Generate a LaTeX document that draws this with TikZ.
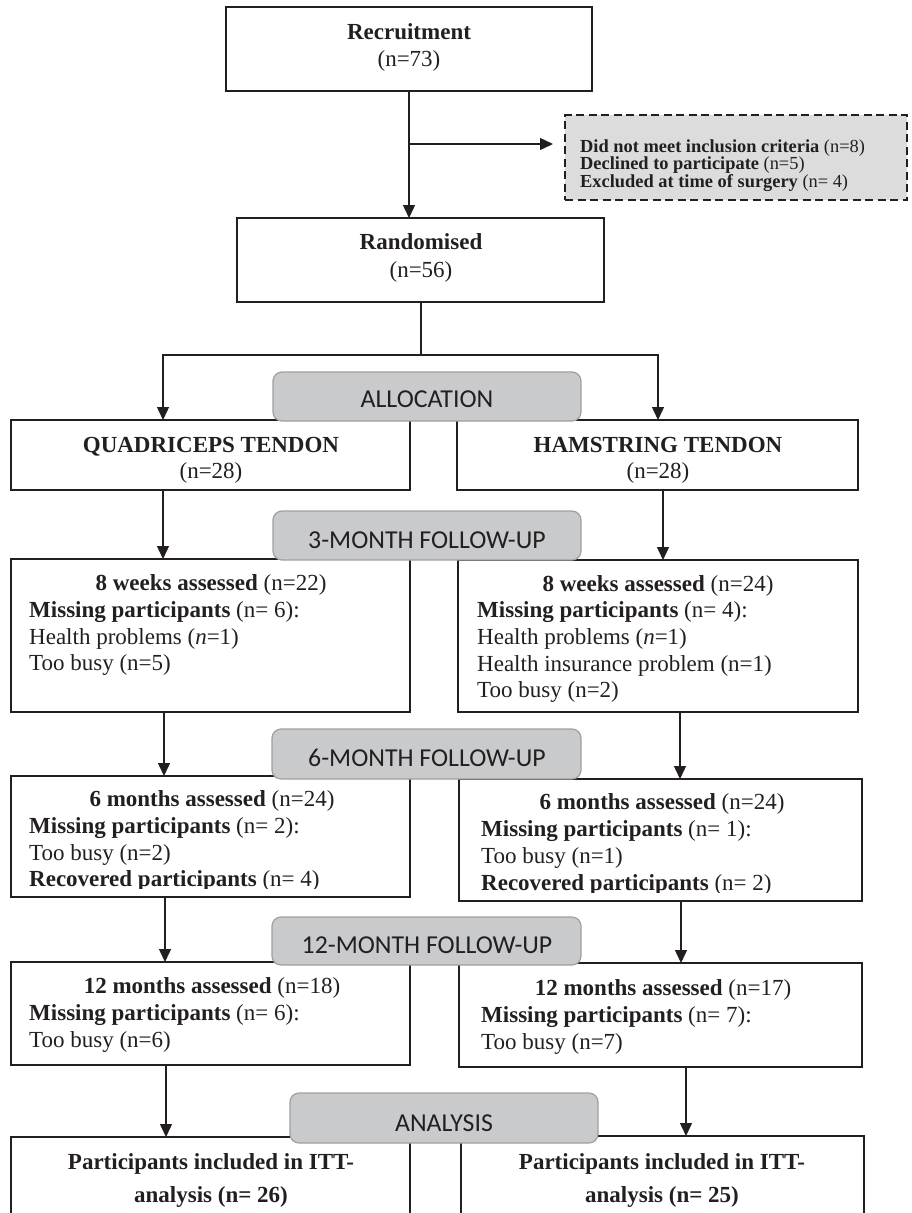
\documentclass[tikz,border=0pt]{standalone}
\usepackage{fontspec}
\setmainfont{Liberation Serif}
\newfontfamily\calib{Carlito}
\usetikzlibrary{arrows.meta}
\definecolor{ink}{HTML}{231F20}
\definecolor{phasefill}{HTML}{C9CACC}
\definecolor{phaseline}{HTML}{A0A0A0}
\definecolor{exclfill}{HTML}{DCDCDC}
\begin{document}
\begin{tikzpicture}[x=1pt,y=-1pt,
  box/.style={draw=ink,line width=1.4pt,fill=white,inner sep=0pt,outer sep=0pt,anchor=north west},
  exclbox/.style={box,fill=exclfill,dash pattern=on 8pt off 4.5pt,line width=1.3pt},
  phase/.style={draw=phaseline,fill=phasefill,line width=1.2pt,rounded corners=9pt,inner sep=0pt,outer sep=0pt,anchor=north west},
  ptext/.style={inner sep=0pt,anchor=base,font=\calib\fontsize{25.8}{28}\selectfont,text=ink},
  tx/.style={inner sep=0pt,font=\fontsize{23}{27}\selectfont,text=ink},
  txc/.style={tx,anchor=base},
  txl/.style={tx,anchor=base west},
  txs/.style={inner sep=0pt,anchor=base west,font=\fontsize{18.4}{18}\selectfont,text=ink},
  conn/.style={draw=ink,line width=1.4pt},
  arr/.style={conn,-{Triangle[length=13pt,width=12pt]}},
]
\useasboundingbox (0,0) rectangle (911,1213);
\clip (0,0) rectangle (911,1213);

% ---------- boxes ----------
\node[box,minimum width=366pt,minimum height=84pt] (rec) at (226,7) {};
\node[exclbox,minimum width=342pt,minimum height=85pt] (excl) at (565,115) {};
\node[box,minimum width=367pt,minimum height=84pt] (rand) at (237,218) {};
\node[box,minimum width=399pt,minimum height=70pt] (quad) at (11,420) {};
\node[box,minimum width=401pt,minimum height=70pt] (ham) at (457,420) {};
\node[box,minimum width=399pt,minimum height=153pt] (wL) at (11,559) {};
\node[box,minimum width=400pt,minimum height=152pt] (wR) at (458,560) {};
\node[box,minimum width=399pt,minimum height=121pt] (sL) at (11,776) {};
\node[box,minimum width=403pt,minimum height=122pt] (sR) at (459,779) {};
\node[box,minimum width=399pt,minimum height=103pt] (tL) at (11,962) {};
\node[box,minimum width=403pt,minimum height=104pt] (tR) at (459,963) {};
\node[box,minimum width=399pt,minimum height=110pt] (iL) at (11,1137) {};
\node[box,minimum width=403pt,minimum height=110pt] (iR) at (461,1136) {};

% ---------- connector coordinates ----------
\coordinate (xa) at (409,0);
\coordinate (yb) at (0,144);
\coordinate (split) at (421,355);
\coordinate (xq) at (163,0);
\coordinate (xh) at (658,0);
\coordinate (x1L) at (163,0);
\coordinate (x1R) at (663,0);
\coordinate (x2L) at (164,0);
\coordinate (x2R) at (680,0);
\coordinate (x3L) at (165,0);
\coordinate (x3R) at (681,0);
\coordinate (x4L) at (166,0);
\coordinate (x4R) at (686,0);

% ---------- connectors ----------
\draw[arr] (rec.south -| xa) -- (rand.north -| xa);
\draw[arr,shorten >=12pt] (xa |- yb) -- (excl.west |- yb);
\draw[conn] (rand.south -| split) -- (split);
\draw[arr] (split) -| (quad.north -| xq);
\draw[arr] (split) -| (ham.north -| xh);
\draw[arr] (quad.south -| x1L) -- (wL.north -| x1L);
\draw[arr] (ham.south -| x1R) -- (wR.north -| x1R);
\draw[arr] (wL.south -| x2L) -- (sL.north -| x2L);
\draw[arr] (wR.south -| x2R) -- (sR.north -| x2R);
\draw[arr] (sL.south -| x3L) -- (tL.north -| x3L);
\draw[arr] (sR.south -| x3R) -- (tR.north -| x3R);
\draw[arr] (tL.south -| x4L) -- (iL.north -| x4L);
\draw[arr] (tR.south -| x4R) -- (iR.north -| x4R);

% ---------- phase labels ----------
\node[phase,minimum width=308pt,minimum height=49pt] (alloc) at (273,372) {};
\node[phase,minimum width=308pt,minimum height=49pt] (m3) at (273,511) {};
\node[phase,minimum width=309pt,minimum height=50pt] (m6) at (272,729) {};
\node[phase,minimum width=309pt,minimum height=48pt] (m12) at (272,917) {};
\node[phase,minimum width=308pt,minimum height=50pt] (anl) at (290,1093) {};
\node[ptext] (allocT) at (427,407) {ALLOCATION};
\node[ptext] (m3T) at (427,548) {3-MONTH FOLLOW-UP};
\node[ptext] (m6T) at (427,766) {6-MONTH FOLLOW-UP};
\node[ptext] (m12T) at (427,953) {12-MONTH FOLLOW-UP};
\node[ptext] (anlT) at (444,1131) {ANALYSIS};

% ---------- texts ----------
\node[txc] (recA) at (409,39) {\textbf{Recruitment}};
\node[txc] (recB) at (409,66) {(n=73)};
\node[txc] (randA) at (421,249) {\textbf{Randomised}};
\node[txc] (randB) at (421,277) {(n=56)};

\node[txs] (exA) at (580,152) {\textbf{Did not meet inclusion criteria} (n=8)};
\node[txs] (exB) at (580,169.5) {\textbf{Declined to participate} (n=5)};
\node[txs] (exC) at (580,187) {\textbf{Excluded at time of surgery} (n= 4)};

\node[txc] (quadA) at (211,452) {\textbf{QUADRICEPS TENDON}};
\node[txc] (quadB) at (211,478) {(n=28)};
\node[txc] (hamA) at (658,452) {\textbf{HAMSTRING TENDON}};
\node[txc] (hamB) at (658,478) {(n=28)};

\node[txc] (wLa) at (211,590) {\textbf{8 weeks assessed} (n=22)};
\node[txl] (wLb) at (29,617) {\textbf{Missing participants} (n= 6):};
\node[txl] (wLc) at (29,644) {Health problems (\textit{n}=1)};
\node[txl] (wLd) at (29,670) {Too busy (n=5)};

\node[txc] (wRa) at (658,591) {\textbf{8 weeks assessed} (n=24)};
\node[txl] (wRb) at (477,617) {\textbf{Missing participants} (n= 4):};
\node[txl] (wRc) at (477,644) {Health problems (\textit{n}=1)};
\node[txl] (wRd) at (477,671) {Health insurance problem (n=1)};
\node[txl] (wRe) at (477,697) {Too busy (n=2)};

\node[txc] (sLa) at (212,806) {\textbf{6 months assessed} (n=24)};
\node[txl] (sLb) at (29,833) {\textbf{Missing participants} (n= 2):};
\node[txl] (sLc) at (29,860) {Too busy (n=2)};
\begin{scope}
\clip (11,776) rectangle (410,888);
\node[txl] (sLd) at (29,886) {\textbf{Recovered participants} (n= 4)};
\end{scope}

\node[txc] (sRa) at (662,809) {\textbf{6 months assessed} (n=24)};
\node[txl] (sRb) at (481,836) {\textbf{Missing participants} (n= 1):};
\node[txl] (sRc) at (481,863) {Too busy (n=1)};
\begin{scope}
\clip (459,779) rectangle (862,892);
\node[txl] (sRd) at (481,890) {\textbf{Recovered participants} (n= 2)};
\end{scope}

\node[txc] (tLa) at (212,993) {\textbf{12 months assessed} (n=18)};
\node[txl] (tLb) at (29,1020) {\textbf{Missing participants} (n= 6):};
\node[txl] (tLc) at (29,1047) {Too busy (n=6)};

\node[txc] (tRa) at (663,995) {\textbf{12 months assessed} (n=17)};
\node[txl] (tRb) at (481,1022) {\textbf{Missing participants} (n= 7):};
\node[txl] (tRc) at (481,1049) {Too busy (n=7)};

\node[txc] (iLa) at (211,1169) {\textbf{Participants included in ITT-}};
\node[txc] (iLb) at (211,1202) {\textbf{analysis (n= 26)}};
\node[txc] (iRa) at (662,1169) {\textbf{Participants included in ITT-}};
\node[txc] (iRb) at (662,1202) {\textbf{analysis (n= 25)}};
\end{tikzpicture}
\end{document}
